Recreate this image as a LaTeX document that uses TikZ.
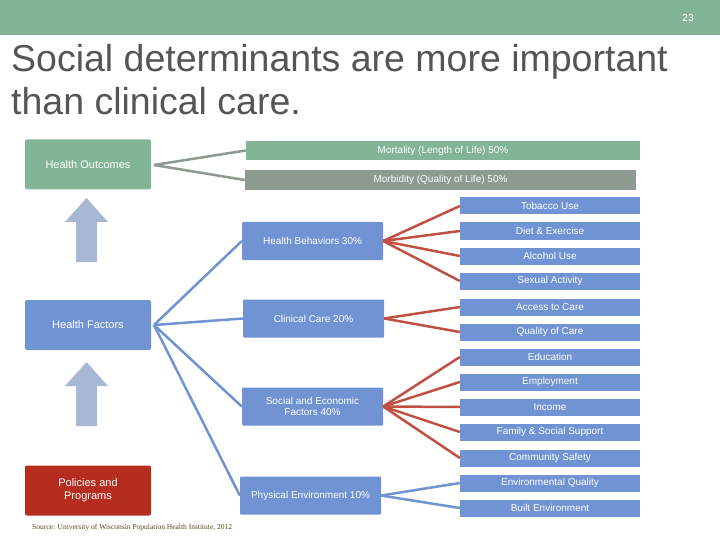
\documentclass[tikz,border=0pt]{standalone}
\usepackage{fontspec}
\setmainfont{Liberation Sans}
\newfontfamily\srcfont{Liberation Serif}
\definecolor{gr}{RGB}{130,181,150}
\definecolor{gy}{RGB}{140,154,144}
\definecolor{bl}{RGB}{112,147,211}
\definecolor{lb}{RGB}{168,184,212}
\definecolor{rd}{RGB}{180,45,30}
\definecolor{rl}{RGB}{192,80,65}
\definecolor{tt}{RGB}{85,85,85}
\tikzset{
 box/.style={draw=none,minimum height=#1,inner sep=1pt,text=white,font=\fontsize{10}{11}\selectfont,align=center},
 lbox/.style={box=50,minimum width=126,rounded corners=2pt,font=\fontsize{11}{13}\selectfont},
 mbox/.style={box=38,fill=bl,minimum width=141,rounded corners=1pt},
 rbox/.style={box=17,fill=bl,minimum width=180},
 bline/.style={bl,line width=2.5pt},
 rline/.style={rl,line width=2.5pt},
 gline/.style={gy,line width=2.5pt},
 uparrow/.style={fill=lb}
}
\begin{document}
\begin{tikzpicture}[x=1pt,y=-1pt]
\useasboundingbox (0,0) rectangle (720,540);
\fill[gr] (0,0) rectangle (720,35);
\node[text=white,font=\fontsize{10}{12}\selectfont] (pg) at (688,18) {23};
\node[anchor=north west,text=tt,font=\fontsize{37.5}{43}\selectfont,align=left,inner sep=0] (title) at (11,44) {Social determinants are more important\\than clinical care.};
\node[lbox,fill=gr] (ho) at (88,164.5) {Health Outcomes};
\node[lbox,fill=bl] (hf) at (88,325) {Health Factors};
\node[lbox,fill=rd] (pp) at (88,490.5) {Policies and\\Programs};
\foreach \t in {198,362}
  \fill[uparrow] (86.5,\t) -- (108,\t+24) -- (97,\t+24) -- (97,\t+64) -- (76,\t+64) -- (76,\t+24) -- (65,\t+24) -- cycle;
\node[box=19,fill=gr,minimum width=394] (mo) at (443,150.5) {Mortality (Length of Life) 50\%};
\node[box=20,fill=gy,minimum width=391] (mb) at (440.5,180) {Morbidity (Quality of Life) 50\%};
\coordinate (hoR) at (154,165);
\draw[gline] (hoR) -- (mo.west);
\draw[gline] (hoR) -- (mb.west);
\node[mbox] (hb) at (312.5,241) {Health Behaviors 30\%};
\node[mbox] (cc) at (313.5,318.5) {Clinical Care 20\%};
\node[mbox] (se) at (312.5,406.5) {Social and Economic\\Factors 40\%};
\node[mbox] (pe) at (310.5,495.5) {Physical Environment 10\%};
\coordinate (hfR) at (154,325);
\foreach \m in {hb,cc,se,pe} \draw[bline] (hfR) -- (\m.west);
\foreach \n/\t/\y in {t1/Tobacco Use/206,t2/Diet \& Exercise/231,t3/Alcohol Use/256,t4/Sexual Activity/281,t5/Access to Care/307,t6/Quality of Care/332,t7/Education/357,t8/Employment/382,t9/Income/407,t10/Family \& Social Support/432,t11/Community Safety/458,t12/Environmental Quality/483,t13/Built Environment/508}
  \node[rbox] (\n) at (550,\y) {\t};
\foreach \n in {t1,t2,t3,t4} \draw[rline] (hb.east) -- (\n.west);
\foreach \n in {t5,t6} \draw[rline] (cc.east) -- (\n.west);
\foreach \n in {t7,t8,t9,t10,t11} \draw[rline] (se.east) -- (\n.west);
\foreach \n in {t12,t13} \draw[bline] (pe.east) -- (\n.west);
\node[anchor=west,inner sep=0,text={rgb,255:red,80;green,70;blue,20},font=\srcfont\fontsize{7.5}{9}\selectfont] (src) at (32,528) {Source: University of Wisconsin Population Health Institute, 2012};
\end{tikzpicture}
\end{document}
